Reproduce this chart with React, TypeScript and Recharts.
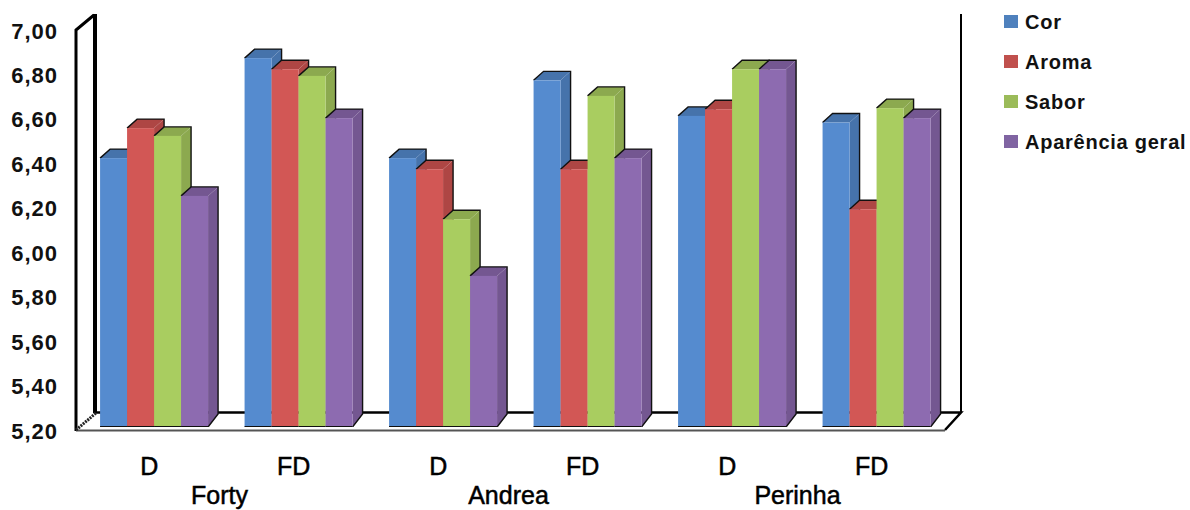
import React from "react";
import { BarChart, Bar, XAxis, YAxis, Customized } from "recharts";

const treatments = ["D", "FD", "D", "FD", "D", "FD"];
const varieties = ["Forty", "Andrea", "Perinha"];
const cor = [6.41, 6.86, 6.41, 6.76, 6.6, 6.57];
const aroma = [6.545, 6.81, 6.36, 6.36, 6.63, 6.18];
const sabor = [6.51, 6.78, 6.135, 6.69, 6.81, 6.635];
const aparencia = [6.24, 6.59, 5.88, 6.41, 6.81, 6.59];
const yTicks = [5.2, 5.4, 5.6, 5.8, 6.0, 6.2, 6.4, 6.6, 6.8, 7.0];

const seriesNames = ["Cor", "Aroma", "Sabor", "Aparência geral"];
const frontColors = ["#558BCF", "#D25755", "#A9CD60", "#8D6BB0"];
const topColors = ["#4673AB", "#AE4644", "#8CA94F", "#745791"];
const legendColors = ["#4F81BD", "#C0504D", "#9BBB59", "#8064A2"];

const data = treatments.map((t, i) => ({
  treatment: t,
  s0: cor[i],
  s1: aroma[i],
  s2: sabor[i],
  s3: aparencia[i],
}));

const FONT = "'Liberation Sans', Arial, sans-serif";
const WIDTH = 1190;
const HEIGHT = 510;
const LEFT = 81;
const RIGHT = 242;
const TOP = 27;
const BOTTOM = 83;
const DX = 10;
const DY = 9;
const BAND = (WIDTH - LEFT - RIGHT) / treatments.length;

const Bar3D = (props: any) => {
  const { x, y, width, height, fill, index } = props;
  const c = props.seriesIndex;
  const base = y + height;
  const outline = `M${x},${y} L${x + DX},${y - DY} L${x + width + DX},${y - DY} L${x + width + DX},${base - 13} L${x + width},${base}`;
  return (
    <g key={index}>
      <polygon
        points={`${x},${y} ${x + DX},${y - DY} ${x + width + DX},${y - DY} ${x + width},${y}`}
        fill={topColors[c]}
      />
      <polygon
        points={`${x + width},${y} ${x + width + DX},${y - DY} ${x + width + DX},${base - 13} ${x + width},${base}`}
        fill={topColors[c]}
      />
      <path d={outline} fill="none" stroke="#111" strokeWidth={1.4} />
      <rect x={x} y={y} width={width} height={height} fill={fill} />
      <line x1={x} x2={x + width} y1={base} y2={base} stroke="#111" strokeWidth={2} />
    </g>
  );
};

const Walls = () => (
  <g fill="none" stroke="#000">
    <path d={`M76,431 L76,30 L94,15`} strokeWidth={3} />
    <path d={`M95,14 L95,413`} strokeWidth={4} />
    <path d={`M961,14 L961,413`} strokeWidth={2} />
    <path d={`M96,412.5 L961,412.5 L945,430`} strokeWidth={2.5} />
    <path d={`M76,430.5 L945,430.5`} strokeWidth={2} stroke="#555" />
    <path d={`M76,430 L96,413`} strokeWidth={3} strokeDasharray="2 1" stroke="#222" />
  </g>
);

const XTick = (props: any) => {
  const { x, payload, index } = props;
  const i = payload?.index ?? index;
  return (
    <g fontFamily={FONT} fontSize={25} fill="#000" stroke="#000" strokeWidth={0.5}>
      <text x={x - 4} y={475} textAnchor="middle">
        {payload.value}
      </text>
      {i % 2 === 1 && (
        <text x={x - BAND / 2 - 6} y={504} textAnchor="middle">
          {varieties[(i - 1) / 2]}
        </text>
      )}
    </g>
  );
};

const YTick = (props: any) => {
  const { y, payload } = props;
  return (
    <text
      x={58}
      y={y + 11.5}
      textAnchor="end"
      fontFamily={FONT}
      fontSize={22}
      fontWeight={700}
      letterSpacing={1}
      fill="#111"
    >
      {payload.value.toFixed(2).replace(".", ",")}
    </text>
  );
};

const LegendBox = () => (
  <div style={{ position: "absolute", left: 1000, top: 10, width: 190, height: 170 }}>
    {seriesNames.map((name, i) => (
      <div
        key={name}
        style={{ position: "absolute", top: i * 40, left: 0, height: 24, width: 190, whiteSpace: "nowrap" }}
      >
        <span
          style={{
            position: "absolute",
            left: 4,
            top: 5,
            width: 14,
            height: 13,
            background: legendColors[i],
          }}
        />
        <span
          style={{
            position: "absolute",
            left: 25,
            top: 0,
            fontFamily: FONT,
            fontSize: 20,
            fontWeight: 700,
            lineHeight: "24px",
            letterSpacing: 0.75,
            color: "#111",
          }}
        >
          {name}
        </span>
      </div>
    ))}
  </div>
);

export default function App() {
  return (
    <div style={{ position: "absolute", left: 0, top: 0, width: WIDTH, height: HEIGHT, background: "#fff", overflow: "hidden" }}>
      <BarChart
        width={WIDTH}
        height={HEIGHT}
        data={data}
        margin={{ top: TOP, right: RIGHT, bottom: 0, left: 0 }}
        barCategoryGap="13.2%"
        barGap={0}
      >
        <Customized component={Walls} />
        <XAxis
          dataKey="treatment"
          axisLine={false}
          tickLine={false}
          interval={0}
          height={BOTTOM}
          tick={<XTick />}
        />
        <YAxis
          width={LEFT}
          domain={[5.2, 7]}
          ticks={yTicks}
          axisLine={false}
          tickLine={false}
          interval={0}
          tick={<YTick />}
          allowDataOverflow
        />
        {seriesNames.map((name, si) => (
          <Bar
            key={name}
            dataKey={`s${si}`}
            name={name}
            fill={frontColors[si]}
            isAnimationActive={false}
            shape={(p: any) => <Bar3D {...p} seriesIndex={si} />}
          />
        ))}
      </BarChart>
      <LegendBox />
    </div>
  );
}
